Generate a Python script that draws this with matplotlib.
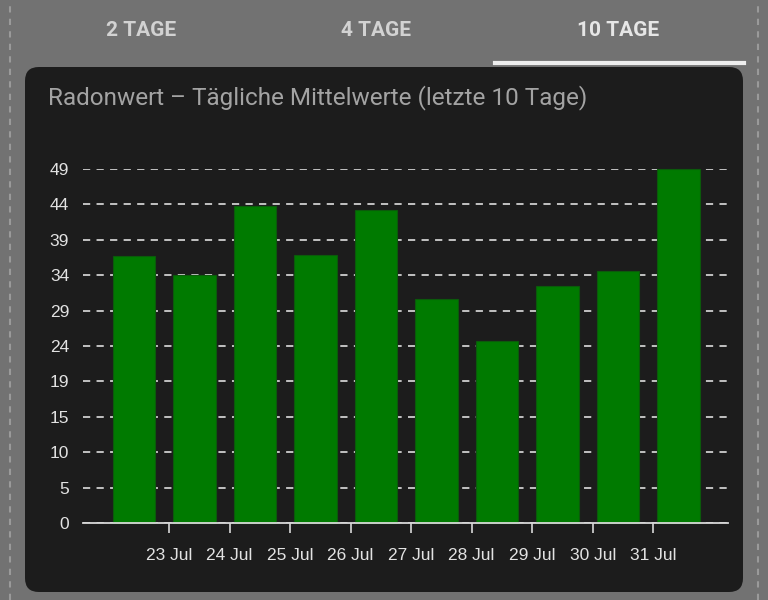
import matplotlib
matplotlib.use("Agg")
import matplotlib.pyplot as plt
import matplotlib.dates as mdates
from matplotlib.patches import FancyBboxPatch
import numpy as np
import datetime as dt

# daten: tagesmittel radon (balken um 10:00 jedes tages)
days = ["2023-07-22", "2023-07-23", "2023-07-24", "2023-07-25", "2023-07-26",
        "2023-07-27", "2023-07-28", "2023-07-29", "2023-07-30", "2023-07-31"]
radon = [36.9, 34.3, 43.9, 37.05, 43.35, 31.0, 25.15, 32.75, 34.9, 49.0]
ytick_vals = [0, 4.9, 9.8, 14.7, 19.6, 24.5, 29.4, 34.3, 39.2, 44.1, 49.0]
ytick_labels = ["0", "5", "10", "15", "19", "24", "29", "34", "39", "44", "49"]
tabs = ["2 TAGE", "4 TAGE", "10 TAGE"]
title = "Radonwert – Tägliche Mittelwerte (letzte 10 Tage)"

W, H = 768, 600
fig = plt.figure(figsize=(W / 100, H / 100), dpi=100)
fig.patch.set_facecolor("#727272")

def fx(px):
    return px / W

def fy(py):
    return 1 - py / H

# seitliche gestrichelte linien im hintergrund
for xl in (10, 758):
    fig.add_artist(plt.Line2D([fx(xl), fx(xl)], [0, 1], color="#9a9a9a",
                              lw=1.5, ls=(0, (3, 3)), transform=fig.transFigure,
                              zorder=-2))

# tabs
tab_x = [141, 376, 618]
for i, t in enumerate(tabs):
    fig.text(fx(tab_x[i]), fy(30), t, ha="center", va="center", fontsize=15,
             fontweight="bold", family="Roboto",
             color="#e6e6e6" if i == 2 else "#d2d2d2")
fig.add_artist(plt.Line2D([fx(495), fx(744)], [fy(63), fy(63)], color="#eeeeee",
                          lw=3, transform=fig.transFigure))

# karte
card = FancyBboxPatch((fx(25), fy(592)), fx(718), (592 - 67) / H,
                      boxstyle="round,pad=0,rounding_size=0.018",
                      transform=fig.transFigure, facecolor="#1c1c1c",
                      edgecolor="none", mutation_aspect=W / H, zorder=-1)
fig.add_artist(card)
fig.text(fx(48), fy(98), title, ha="left", va="center", fontsize=17.5,
         family="Roboto", color="#a3a3a3")

# diagramm
ax = fig.add_axes([fx(83), fy(523), fx(728 - 83), (523 - 169) / H])
ax.set_zorder(2)
ax.set_facecolor("none")
x = [dt.datetime.fromisoformat(d) + dt.timedelta(hours=10) for d in days]
ax.bar(x, radon, width=0.7, color="#007a00", edgecolor="#0b5a0b",
       linewidth=0.8, zorder=3, clip_on=False)

ax.set_ylim(0, 49)
ax.set_xlim(dt.datetime(2023, 7, 21, 13, 50), dt.datetime(2023, 8, 1, 5, 40))
ax.set_yticks(ytick_vals)
ax.set_yticklabels(ytick_labels)
ax.yaxis.grid(True, color="#cfcfcf", ls=(0, (4, 3.5)), lw=1.3, zorder=1)
ax.set_axisbelow(True)
ax.xaxis.set_major_locator(mdates.DayLocator(bymonthday=range(23, 32)))
ax.xaxis.set_major_formatter(mdates.DateFormatter("%d %b"))

for s in ("top", "right", "left"):
    ax.spines[s].set_visible(False)
ax.spines["bottom"].set_color("#d8d8d8")
ax.spines["bottom"].set_linewidth(1.3)
ax.spines["bottom"].set_zorder(4)
ax.tick_params(axis="y", length=0, pad=10, labelsize=12.5, labelcolor="#e2e2e2")
ax.tick_params(axis="x", length=7, width=1.2, color="#d8d8d8", pad=11,
               labelsize=12.5, labelcolor="#e2e2e2")
for lab in ax.get_xticklabels() + ax.get_yticklabels():
    lab.set_family("Liberation Sans")

fig.savefig("out.png", dpi=100, facecolor=fig.get_facecolor())
